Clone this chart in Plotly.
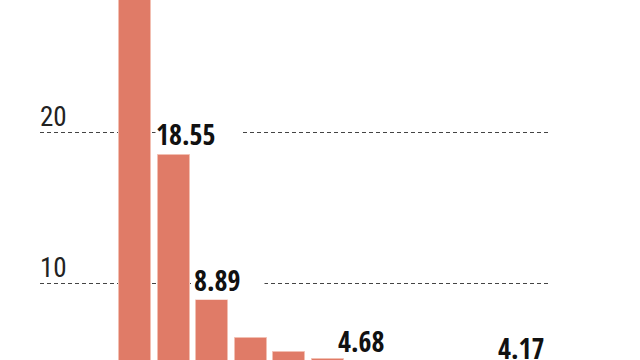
import plotly.graph_objects as go

# ---- data ----
positions = list(range(11))
values = [33.5, 18.55, 8.89, 6.40, 5.45, 4.95, 4.68, 4.55, 4.40, 4.28, 4.17]
label_idx = [1, 2, 6, 10]
label_text = ["18.55", "8.89", "4.68", "4.17"]
y_ticks = [10, 20]
y_tick_text = ["10", "20"]

# ---- style ----
BAR = "#E07B67"
Y_LO, Y_HI = 4.907, 28.81
label_dx = [-19, -19, -30, -24]      # px, left edge of label vs bar centre
label_dy = [1, 0, 2, 3]              # px, extra gap above bar top
label_w = [86, 70, None, None]       # white box width (masks gridline)
FONT_B = "Open Sans Condensed, Roboto Condensed, sans-serif"

fig = go.Figure(go.Bar(
    x=positions, y=values, width=0.83,
    marker=dict(color=BAR, line=dict(color="#F2BFB2", width=1)),
    hoverinfo="skip",
))

def to_paper(v):
    return (v - Y_LO) / (Y_HI - Y_LO)

for k, i in enumerate(label_idx):
    ann = dict(
        x=positions[i], xref="x", y=to_paper(values[i]), yref="paper",
        text=label_text[k], showarrow=False, xanchor="left", yanchor="bottom",
        xshift=label_dx[k], yshift=label_dy[k],
        font=dict(family=FONT_B, size=28, color="#111", weight="bold"),
        borderpad=0,
    )
    if label_w[k]:
        ann.update(bgcolor="white", width=label_w[k], align="left")
    fig.add_annotation(**ann)

fig.update_layout(
    width=640, height=360,
    margin=dict(l=40, r=92, t=0, b=0),
    paper_bgcolor="white", plot_bgcolor="white",
    showlegend=False,
    bargap=0,
    xaxis=dict(range=[-2.461, 10.699], showgrid=False, zeroline=False,
               showticklabels=False, showline=False, ticks=""),
    yaxis=dict(range=[Y_LO, Y_HI], tickvals=y_ticks, ticktext=y_tick_text,
               showgrid=True, gridcolor="#444", gridwidth=1, griddash="4px,3px",
               zeroline=False, showline=False, ticks="",
               ticklabelposition="inside", ticklabelshift=-16, ticklabelstandoff=-3,
               tickfont=dict(family="Roboto Condensed, Open Sans Condensed, sans-serif",
                             size=27, color="#222", weight="normal")),
)

fig.write_html("out.html")
